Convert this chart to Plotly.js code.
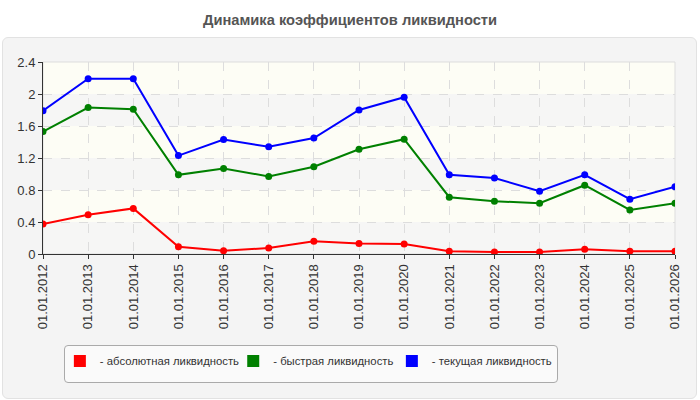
<!DOCTYPE html>
<html>
<head>
<meta charset="utf-8">
<script src="https://cdn.plot.ly/plotly-3.0.1.min.js"></script>
<style>
  body { margin: 0; background: #fff; }
  #panel {
    position: absolute; left: 2px; top: 37px; width: 693px; height: 360px;
    background: #f4f4f4; border: 1px solid #e2e2e2; border-radius: 6px;
  }
  #legendbox {
    position: absolute; left: 64px; top: 345px; width: 492px; height: 36px;
    background: #fafafa; border: 1px solid #aaaaaa; border-radius: 4px;
  }
  #chart { position: absolute; left: 0; top: 0; width: 700px; height: 400px; }
</style>
</head>
<body>
<div id="panel"></div>
<div id="legendbox"></div>
<div id="chart"></div>
<script>
// dates of the balance sheet
const dates = ['01.01.2012', '01.01.2013', '01.01.2014', '01.01.2015', '01.01.2016',
  '01.01.2017', '01.01.2018', '01.01.2019', '01.01.2020', '01.01.2021',
  '01.01.2022', '01.01.2023', '01.01.2024', '01.01.2025', '01.01.2026'];

// liquidity ratios
const absLiquidity = [0.375, 0.49, 0.57, 0.09, 0.04, 0.075, 0.16, 0.13, 0.125, 0.033, 0.025, 0.025, 0.06, 0.035, 0.033];
const quickLiquidity = [1.53, 1.83, 1.81, 0.99, 1.07, 0.97, 1.09, 1.31, 1.435, 0.71, 0.66, 0.635, 0.86, 0.55, 0.635];
const currentLiquidity = [1.79, 2.19, 2.19, 1.23, 1.43, 1.34, 1.45, 1.80, 1.96, 0.99, 0.95, 0.785, 0.99, 0.685, 0.84];

const yTicks = [0, 0.4, 0.8, 1.2, 1.6, 2, 2.4];

const series = [
  { name: '- абсолютная ликвидность', y: absLiquidity, color: '#ff0000', legend: 'legend', lx: 0.0267 },
  { name: '- быстрая ликвидность', y: quickLiquidity, color: '#008000', legend: 'legend2', lx: 0.301 },
  { name: '- текущая ликвидность', y: currentLiquidity, color: '#0000ff', legend: 'legend3', lx: 0.552 }
];

const traces = [];
series.forEach(s => {
  traces.push({
    x: dates, y: s.y, type: 'scatter', mode: 'lines+markers',
    line: { color: s.color, width: 2 },
    marker: { color: s.color, size: 7 },
    showlegend: false, hoverinfo: 'y'
  });
});
// legend swatches only (zero-height bars, nothing drawn in the plot)
series.forEach(s => {
  traces.push({
    x: [dates[0]], y: [0], type: 'bar', name: s.name, hoverinfo: 'skip',
    legend: s.legend, marker: { color: s.color, line: { width: 0 } }
  });
});

// alternating background bands between gridlines
const shapes = [];
for (let i = 0; i < yTicks.length - 1; i++) {
  shapes.push({
    type: 'rect', xref: 'paper', yref: 'y', layer: 'below',
    x0: 0, x1: 1, y0: yTicks[i], y1: yTicks[i + 1],
    fillcolor: i % 2 === 0 ? '#f6f6f5' : '#fdfdf5', line: { width: 0 }
  });
}
// right / top frame
shapes.push({
  type: 'rect', xref: 'paper', yref: 'paper', x0: 0, x1: 1, y0: 0, y1: 1,
  line: { color: '#dddddd', width: 1 }, layer: 'below'
});

const layout = {
  width: 700, height: 400,
  margin: { l: 43, r: 25, t: 62, b: 146 },
  paper_bgcolor: 'rgba(0,0,0,0)',
  plot_bgcolor: '#fdfdf5',
  font: { family: 'Liberation Sans, Arial, sans-serif', size: 13, color: '#333' },
  title: {
    text: '<b>Динамика коэффициентов ликвидности</b>',
    font: { family: 'Liberation Sans, Arial, sans-serif', size: 14.7, color: '#555' },
    x: 0.5, xref: 'container', y: 0.95, yref: 'container', xanchor: 'center', yanchor: 'middle'
  },
  xaxis: {
    type: 'category', range: [0, dates.length - 1],
    tickangle: -90, ticks: 'outside', ticklen: 4, tickcolor: '#333',
    showline: true, linecolor: '#333', linewidth: 1,
    showgrid: true, gridcolor: '#dddddd', griddash: 'dash', gridwidth: 1,
    zeroline: false, fixedrange: true
  },
  yaxis: {
    range: [0, 2.4], tickvals: yTicks, ticktext: yTicks.map(String),
    ticks: 'outside', ticklen: 4, tickcolor: '#333',
    showline: true, linecolor: '#333', linewidth: 1,
    showgrid: true, gridcolor: '#dddddd', griddash: 'dash', gridwidth: 1,
    zeroline: false, fixedrange: true
  },
  shapes: shapes,
  showlegend: true
};

// one small legend per series, placed like the original legend entries
series.forEach(s => {
  layout[s.legend] = {
    orientation: 'h', x: s.lx, y: -0.557, xanchor: 'left', yanchor: 'middle',
    bgcolor: 'rgba(0,0,0,0)', borderwidth: 0, itemwidth: 30,
    font: { size: 11.3, color: '#333' }, itemclick: false, itemdoubleclick: false
  };
});

Plotly.newPlot('chart', traces, layout, { displayModeBar: false, staticPlot: true });
</script>
</body>
</html>
